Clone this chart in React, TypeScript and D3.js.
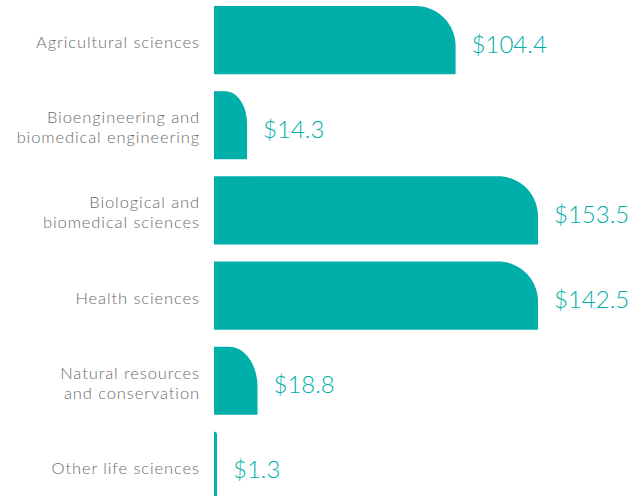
import React, { useEffect, useRef } from "react";
import * as d3 from "d3";

const categories = [
  ["Agricultural sciences"],
  ["Bioengineering and", "biomedical engineering"],
  ["Biological and", "biomedical sciences"],
  ["Health sciences"],
  ["Natural resources", "and conservation"],
  ["Other life sciences"],
];
const values = [104.4, 14.3, 153.5, 142.5, 18.8, 1.3];

const W = 643;
const H = 496;
const TEAL = "#00afa9";

export default function App() {
  const ref = useRef<SVGSVGElement>(null);

  useEffect(() => {
    const svg = d3.select(ref.current);
    svg.selectAll("*").remove();

    const left = 214;
    // the widest bars are cut short so their labels still fit
    const x = d3.scaleLinear().domain([0, 140]).range([0, 324]).clamp(true);
    const y = d3
      .scaleBand<number>()
      .domain(d3.range(values.length))
      .range([6, 500])
      .paddingInner(0.2);

    const barPath = (w: number, top: number, h: number) => {
      const rx = Math.min(40, w * 0.65);
      const ry = Math.min(40, h, w);
      const p = d3.path();
      p.moveTo(left, top + h);
      p.lineTo(left, top);
      p.lineTo(left + w - rx, top);
      p.bezierCurveTo(
        left + w - rx + rx * 0.55,
        top,
        left + w,
        top + ry - ry * 0.55,
        left + w,
        top + ry
      );
      p.lineTo(left + w, top + h);
      p.closePath();
      return p.toString();
    };

    const rows = svg
      .selectAll("g.row")
      .data(values)
      .join("g")
      .attr("class", "row");

    rows
      .append("path")
      .attr("d", (d, i) => barPath(x(d), y(i)!, y.bandwidth()))
      .attr("fill", TEAL);

    rows
      .append("text")
      .attr("x", (d) => left + x(d) + 16)
      .attr("y", (d, i) => y(i)! + y.bandwidth() / 2 + 3)
      .attr("dominant-baseline", "central")
      .attr("font-family", "Lato, sans-serif")
      .attr("font-weight", 300)
      .attr("font-size", 24)
      .attr("fill", TEAL)
      .text((d) => `$${d}`);

    rows.each(function (d, i) {
      const lines = categories[i];
      const cy = y(i)! + y.bandwidth() / 2 + 2;
      const t = d3
        .select(this)
        .append("text")
        .attr("text-anchor", "end")
        .attr("font-family", "Lato, sans-serif")
        .attr("font-weight", 300)
        .attr("font-size", 16.5)
        .attr("letter-spacing", 0.9)
        .attr("fill", "#6b6b6b");
      lines.forEach((l, k) => {
        t.append("tspan")
          .attr("x", 200)
          .attr("y", cy + (k - (lines.length - 1) / 2) * 20)
          .attr("dominant-baseline", "central")
          .text(l);
      });
    });
  }, []);

  return (
    <svg
      ref={ref}
      width={W}
      height={H}
      style={{ position: "absolute", left: 0, top: 0, background: "#fff" }}
    />
  );
}
